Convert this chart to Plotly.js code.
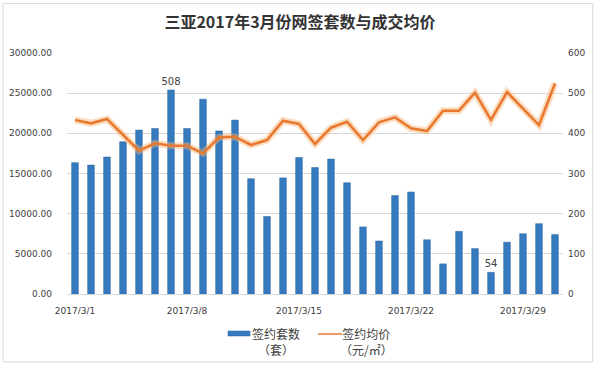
<!DOCTYPE html>
<html>
<head>
<meta charset="utf-8">
<script src="https://cdn.plot.ly/plotly-3.0.1.min.js"></script>
<style>html,body{margin:0;padding:0;background:#fff;}#chart{width:600px;height:368px;}</style>
</head>
<body>
<div id="chart"></div>
<script>
const dates = ["2017/3/1","2017/3/2","2017/3/3","2017/3/4","2017/3/5","2017/3/6","2017/3/7","2017/3/8","2017/3/9","2017/3/10","2017/3/11","2017/3/12","2017/3/13","2017/3/14","2017/3/15","2017/3/16","2017/3/17","2017/3/18","2017/3/19","2017/3/20","2017/3/21","2017/3/22","2017/3/23","2017/3/24","2017/3/25","2017/3/26","2017/3/27","2017/3/28","2017/3/29","2017/3/30","2017/3/31"];
const counts = [327,321,341,379,408,412,508,412,485,406,433,287,193,289,340,315,336,277,167,132,245,254,135,75,156,113,54,129,150,175,148];
const prices = [21660,21250,21780,19800,17840,18760,18460,18460,17510,19500,19580,18550,19170,21570,21160,18670,20700,21450,19170,21370,21990,20620,20290,22820,22820,25060,21660,25140,23120,21030,26220];
const tickDates = ["2017/3/1","2017/3/8","2017/3/15","2017/3/22","2017/3/29"];
const labelled = ["2017/3/7","2017/3/27"];
const seriesNames = ["签约套数<br>（套）", "签约均价<br>（元/㎡）"];
const barLabels = dates.map((d,i)=> labelled.includes(d) ? String(counts[i]) : "");

const numFont = {family:"DejaVu Sans, Liberation Sans, sans-serif", size:9, color:"#404040"};
const legFont = {family:"Noto Sans CJK SC, sans-serif", size:12, color:"#404040"};
const BLUE = "#3579BE", ORANGE = "#E8792F";
const traces = [
  {type:"bar", x:dates, y:counts, name:seriesNames[0], yaxis:"y",
   marker:{color:BLUE, line:{color:"#2A65A3", width:0.5}}, width:0.42,
   text:barLabels, textposition:"outside", cliponaxis:false, constraintext:"none",
   textfont:{family:"DejaVu Sans, sans-serif", size:10, color:"#404040"}},
  {type:"scatter", mode:"lines", x:dates, y:prices, yaxis:"y2", hoverinfo:"skip",
   line:{color:"rgba(247,180,120,0.45)", width:7}},
  {type:"scatter", mode:"lines", x:dates, y:prices, name:seriesNames[1], yaxis:"y2",
   line:{color:ORANGE, width:2.6}}
];
const layout = {
  width:600, height:368,
  margin:{l:67, r:37, t:53, b:74},
  paper_bgcolor:"#ffffff", plot_bgcolor:"#ffffff",
  showlegend:false,
  title:{text:"<b>三亚2017年3月份网签套数与成交均价</b>", x:0.5, xanchor:"center", y:0.94, yanchor:"middle",
         font:{family:"Noto Sans CJK SC, sans-serif", size:16, color:"#333333"}},
  xaxis:{type:"category", tickmode:"array", tickvals:tickDates, ticktext:tickDates,
         tickfont:numFont, showgrid:false, showline:false, ticks:"", ticklabelstandoff:10, range:[-0.5,30.5]},
  yaxis:{side:"right", range:[0,600], tickvals:[0,100,200,300,400,500,600],
         tickfont:numFont, showgrid:false, zeroline:false, ticks:"", ticklabelstandoff:4},
  yaxis2:{overlaying:"y", side:"left", range:[0,30000], tickvals:[0,5000,10000,15000,20000,25000,30000],
         tickformat:".2f", tickfont:numFont, showgrid:true, gridcolor:"#d9d9d9", gridwidth:1,
         zeroline:true, zerolinecolor:"#d9d9d9", ticks:"", ticklabelstandoff:14},
  shapes:[
    {type:"rect", xref:"paper", yref:"paper", x0:-0.129, x1:1.06, y0:-0.282, y1:1.205,
     line:{color:"#d8d8d8", width:1}, fillcolor:"rgba(0,0,0,0)", layer:"below"},
    {type:"rect", xref:"paper", yref:"paper", x0:0.3246, x1:0.369, y0:-0.1743, y1:-0.1535,
     line:{color:"#2A65A3", width:0.5}, fillcolor:BLUE},
    {type:"line", xref:"paper", yref:"paper", x0:0.506, x1:0.5544, y0:-0.166, y1:-0.166,
     line:{color:ORANGE, width:1.5}}
  ],
  annotations:[
    {xref:"paper", yref:"paper", x:0.4214, y:-0.197, xanchor:"center", yanchor:"middle", align:"center",
     showarrow:false, text:seriesNames[0], font:legFont},
    {xref:"paper", yref:"paper", x:0.6048, y:-0.197, xanchor:"center", yanchor:"middle", align:"center",
     showarrow:false, text:seriesNames[1], font:legFont}
  ]
};
Plotly.newPlot("chart", traces, layout, {displayModeBar:false, staticPlot:true});
</script>
</body>
</html>
